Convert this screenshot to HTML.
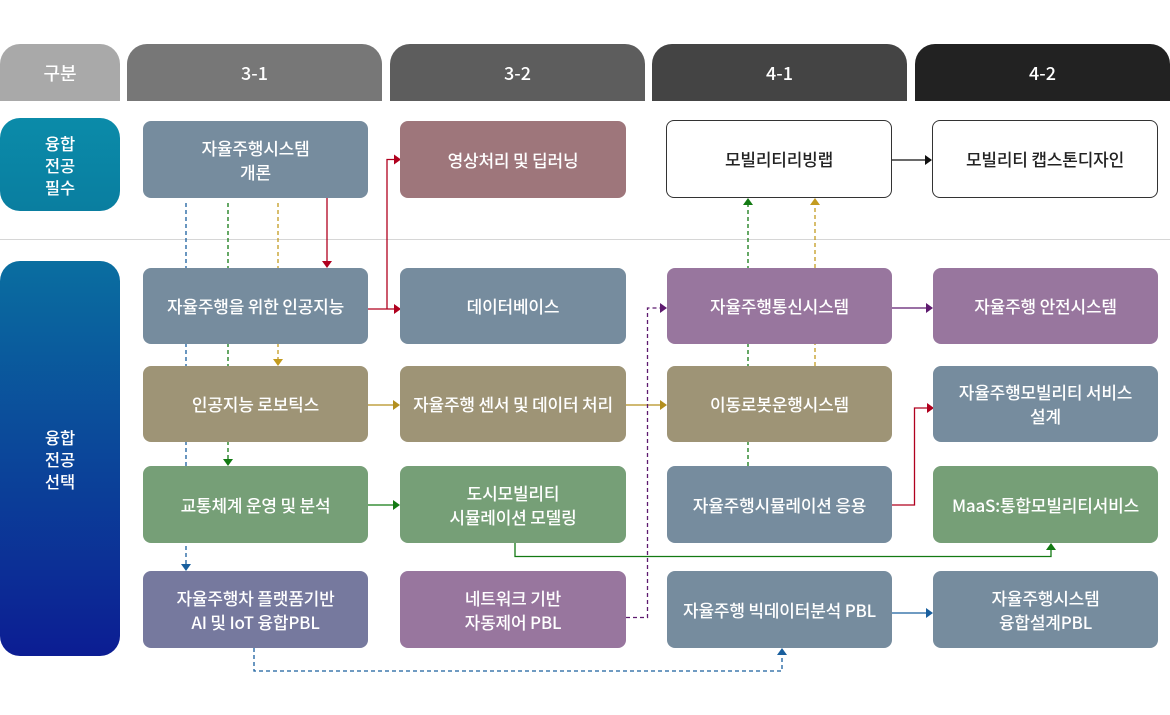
<!DOCTYPE html>
<html><head><meta charset="utf-8">
<style>
*{margin:0;padding:0;box-sizing:border-box}
body{width:1170px;height:715px;background:#fff;position:relative;overflow:hidden;font-family:"Liberation Sans","Noto Sans CJK KR",sans-serif}
.h{position:absolute;top:44px;height:57px;border-radius:20px 20px 0 0;color:#fff;font-size:18px;font-weight:500;display:flex;align-items:center;justify-content:center;font-family:"Noto Sans CJK KR",sans-serif}
.s{position:absolute;left:0;width:120px;border-radius:20px;color:#fff;font-size:16.5px;font-weight:500;line-height:22px;display:flex;align-items:center;justify-content:center;text-align:center;font-family:"Noto Sans CJK KR",sans-serif}
.b{position:absolute;border-radius:8px;color:#fff;font-size:17px;font-weight:500;line-height:24px;letter-spacing:-0.2px;display:flex;align-items:center;justify-content:center;text-align:center;font-family:"Noto Sans CJK KR",sans-serif;z-index:2}
.w{background:#fff;border:1.5px solid #333;color:#222}
.c1{left:143px;width:225px}.c2{left:400px;width:226px}.c3{left:667px;width:225px}.c4{left:933px;width:225px}
.r1{top:121px;height:77px}.r2{top:268px;height:76px}.r3{top:366px;height:76px}.r4{top:466px;height:77px}.r5{top:571px;height:77px}
.gb{background:#768c9e}.pu{background:#98769e}.ol{background:#9e9476}.gr{background:#769f77}.bp{background:#76799e}.rs{background:#9e767b}
svg{position:absolute;left:0;top:0;z-index:1}
</style></head><body>
<div class="h" style="left:0;width:120px;background:#a9a9a9">구분</div>
<div class="h" style="left:127px;width:255px;background:#777">3-1</div>
<div class="h" style="left:390px;width:255px;background:#5d5d5d">3-2</div>
<div class="h" style="left:652px;width:255px;background:#444">4-1</div>
<div class="h" style="left:915px;width:255px;background:#222">4-2</div>

<div class="s" style="top:118px;height:93px;background:linear-gradient(#0b8ba9,#0a7ea0)">융합<br>전공<br>필수</div>
<div class="s" style="top:261px;height:395px;background:linear-gradient(#0a6ea0,#0c1d93)">융합<br>전공<br>선택</div>

<div style="position:absolute;left:0;top:239px;width:1170px;height:1px;background:#d6d6d6"></div>

<svg width="1170" height="715" viewBox="0 0 1170 715">
<g fill="none" stroke-width="1.3">
 <path d="M327 198V262" stroke="#b0001e"/>
 <path d="M368 309H394M387 309V159.5H394" stroke="#b0001e"/>
 <path d="M278 203V360" stroke="#c39b1f" stroke-dasharray="4 3"/>
 <path d="M228 203V460" stroke="#137a13" stroke-dasharray="4 3"/>
 <path d="M186 203V565" stroke="#195f9e" stroke-dasharray="4 3"/>
 <path d="M368 405H394M626 405H661" stroke="#b38f1e"/>
 <path d="M368 505H394" stroke="#137a13"/>
 <path d="M515 543V556.5H1051V549" stroke="#137a13"/>
 <path d="M626 617.5H647.5V308H661" stroke="#5e1a6f" stroke-dasharray="4 3"/>
 <path d="M254 648V671H782V654" stroke="#195f9e" stroke-dasharray="4 3"/>
 <path d="M892 613H927" stroke="#195f9e"/>
 <path d="M892 308H927" stroke="#5e1a6f"/>
 <path d="M892 505H914.5V408H928" stroke="#b0001e"/>
 <path d="M748 466V204" stroke="#137a13" stroke-dasharray="4 3"/>
 <path d="M815 366V204" stroke="#c39b1f" stroke-dasharray="4 3"/>
 <path d="M892 160H926" stroke="#111"/>
</g>
<g>
 <polygon points="322,261 332,261 327,268" fill="#b0001e"/>
 <polygon points="394,304 394,314 401,309" fill="#b0001e"/>
 <polygon points="394,154.5 394,164.5 401,159.5" fill="#b0001e"/>
 <polygon points="273,359 283,359 278,366" fill="#c39b1f"/>
 <polygon points="223,459 233,459 228,466" fill="#137a13"/>
 <polygon points="181,564 191,564 186,571" fill="#195f9e"/>
 <polygon points="393,400 393,410 400,405" fill="#b38f1e"/>
 <polygon points="660,400 660,410 667,405" fill="#b38f1e"/>
 <polygon points="393,500 393,510 400,505" fill="#137a13"/>
 <polygon points="1046,550 1056,550 1051,543" fill="#137a13"/>
 <polygon points="660,303 660,313 667,308" fill="#5e1a6f"/>
 <polygon points="777,655 787,655 782,648" fill="#195f9e"/>
 <polygon points="926,608 926,618 933,613" fill="#195f9e"/>
 <polygon points="926,303 926,313 933,308" fill="#5e1a6f"/>
 <polygon points="927,403 927,413 934,408" fill="#b0001e"/>
 <polygon points="743,205 753,205 748,198" fill="#137a13"/>
 <polygon points="810,205 820,205 815,198" fill="#c39b1f"/>
 <polygon points="925,155 925,165 932,160" fill="#111"/>
</g>
</svg>

<div class="b c1 r1 gb">자율주행시스템<br>개론</div>
<div class="b c2 r1 rs">영상처리 및 딥러닝</div>
<div class="b w" style="left:666px;top:120px;width:226px;height:78px">모빌리티리빙랩</div>
<div class="b w" style="left:932px;top:120px;width:226px;height:78px">모빌리티 캡스톤디자인</div>

<div class="b c1 r2 gb">자율주행을 위한 인공지능</div>
<div class="b c2 r2 gb">데이터베이스</div>
<div class="b c3 r2 pu">자율주행통신시스템</div>
<div class="b c4 r2 pu">자율주행 안전시스템</div>

<div class="b c1 r3 ol">인공지능 로보틱스</div>
<div class="b c2 r3 ol">자율주행 센서 및 데이터 처리</div>
<div class="b c3 r3 ol">이동로봇운행시스템</div>
<div class="b c4 r3 gb">자율주행모빌리티 서비스<br>설계</div>

<div class="b c1 r4 gr">교통체계 운영 및 분석</div>
<div class="b c2 r4 gr">도시모빌리티<br>시뮬레이션 모델링</div>
<div class="b c3 r4 gb">자율주행시뮬레이션 응용</div>
<div class="b c4 r4 gr">MaaS:통합모빌리티서비스</div>

<div class="b c1 r5 bp">자율주행차 플랫폼기반<br>AI 및 IoT 융합PBL</div>
<div class="b c2 r5 pu">네트워크 기반<br>자동제어 PBL</div>
<div class="b c3 r5 gb">자율주행 빅데이터분석 PBL</div>
<div class="b c4 r5 gb">자율주행시스템<br>융합설계PBL</div>
</body></html>
